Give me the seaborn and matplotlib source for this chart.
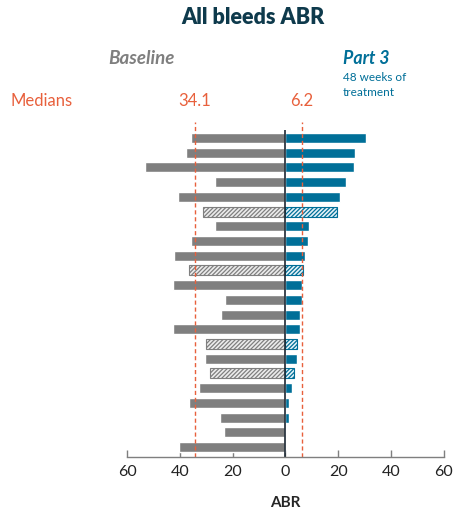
import numpy as np
import pandas as pd
import seaborn as sns
import matplotlib.pyplot as plt

# Per-patient ABR, sorted by Part 3 value
baseline = [35.9, 37.8, 53.2, 26.5, 40.7, 31.4, 26.8, 35.6, 42.2, 36.7, 42.4,
            22.9, 24.5, 42.4, 30.2, 30.5, 28.4, 32.8, 36.7, 24.7, 23.3, 40.3]
part3 = [30.5, 26.2, 25.8, 22.8, 20.5, 19.4, 8.8, 8.7, 7.4, 6.5, 6.2,
         6.1, 5.5, 5.5, 4.5, 4.5, 3.3, 2.4, 1.4, 1.4, 0.0, 0.0]
hatched = [False, False, False, False, False, True, False, False, False, True, False,
           False, False, False, True, False, True, False, False, False, False, False]
median_baseline = 34.1
median_part3 = 6.2
xticks = [-60, -40, -20, 0, 20, 40, 60]

gray = "#7f7f7f"
blue = "#006f98"
orange = "#e8603c"
navy = "#0e3a4c"

df = pd.DataFrame({
    "patient": [str(i) for i in range(len(part3))],
    "baseline": [-v for v in baseline],
    "part3": part3,
})

sns.set_style("white")
plt.rcParams["font.family"] = ["Lato", "DejaVu Sans"]
plt.rcParams["hatch.linewidth"] = 0.9

fig = plt.figure(figsize=(4.59, 5.21), dpi=100)
ax = fig.add_axes([0.2767, 0.1228, 0.6906, 0.643])

sns.barplot(data=df, x="baseline", y="patient", orient="h", color=gray,
            saturation=1, width=0.68, ax=ax)
sns.barplot(data=df, x="part3", y="patient", orient="h", color=blue,
            saturation=1, width=0.68, ax=ax)

# hatched bars
n = len(part3)
for i, p in enumerate(ax.patches):
    idx = i % n
    if hatched[idx]:
        col = gray if i < n else blue
        p.set_facecolor("#e3f1f7" if i >= n else "#ececec")
        p.set_edgecolor(col)
        p.set_hatch("////////")
        p.set_linewidth(0.8)

ax.set_ylim(n - 1 + 0.68, -1.09)
ax.set_xlim(-60, 60)
ax.axvline(-median_baseline, color=orange, ls=(0, (3, 2)), lw=1)
ax.axvline(median_part3, color=orange, ls=(0, (3, 2)), lw=1)
ax.vlines(0, -0.55, n - 1 + 0.68, color="#1c2833", lw=1.2)

ax.set_xticks(xticks)
ax.set_xticklabels([str(abs(t)) for t in xticks], fontsize=11.5, color="#222222")
ax.set_yticks([])
ax.set_ylabel("")
ax.set_xlabel("ABR", fontsize=11, fontweight="bold", labelpad=12)
ax.tick_params(axis="x", direction="in", length=5, width=1, color=gray, pad=6,
               bottom=True)
for s in ["top", "right", "left"]:
    ax.spines[s].set_visible(False)
ax.spines["bottom"].set_color(gray)
ax.spines["bottom"].set_linewidth(1)

W, H = 459, 521
def fx(x): return x / W
def fy(y): return 1 - y / H

fig.text(fx(253), fy(17), "All bleeds ABR", ha="center", va="center",
         fontsize=15.5, fontweight="heavy", color=navy)
fig.text(fx(141), fy(58), "Baseline", ha="center", va="center", fontsize=13.5,
         fontweight="bold", style="italic", color=gray)
fig.text(fx(343), fy(58), "Part 3", ha="left", va="center", fontsize=12.8,
         fontweight="bold", style="italic", color=blue)
fig.text(fx(343), fy(78), "48 weeks of", ha="left", va="center", fontsize=8.5, color=blue)
fig.text(fx(343), fy(92), "treatment", ha="left", va="center", fontsize=8.5, color=blue)
fig.text(fx(10), fy(101), "Medians", ha="left", va="center", fontsize=12, color=orange)
fig.text(fx(195), fy(101), "34.1", ha="center", va="center", fontsize=12, color=orange)
fig.text(fx(302), fy(101), "6.2", ha="center", va="center", fontsize=12, color=orange)

fig.savefig("out.png", dpi=100)
